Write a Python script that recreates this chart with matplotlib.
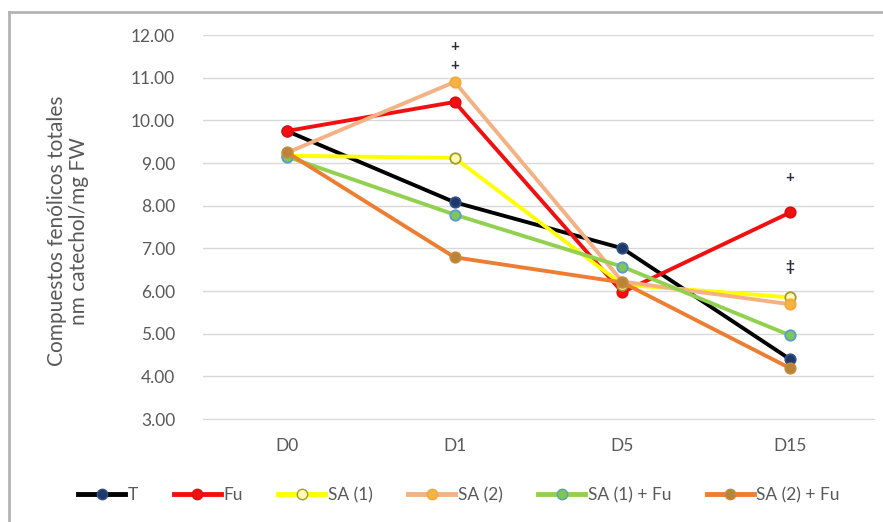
import matplotlib.pyplot as plt
from matplotlib.lines import Line2D

plt.rcParams['font.family'] = ['Lato', 'DejaVu Sans']

days = ["D0", "D1", "D5", "D15"]

t_vals = [9.75, 8.08, 7.00, 4.40]
fu_vals = [9.75, 10.43, 5.97, 7.84]
sa1_vals = [9.17, 9.12, 6.15, 5.85]
sa2_vals = [9.24, 10.90, 6.22, 5.69]
sa1fu_vals = [9.15, 7.79, 6.57, 4.96]
sa2fu_vals = [9.25, 6.79, 6.20, 4.19]

labels = ["T", "Fu", "SA (1)", "SA (2)", "SA (1) + Fu", "SA (2) + Fu"]

# significance marks: (day index, y, symbol)
marks = [(1, 11.72, "+"), (1, 11.27, "+"), (3, 8.65, "+"), (3, 6.57, "‡")]

series = [t_vals, fu_vals, sa1_vals, sa2_vals, sa1fu_vals, sa2fu_vals]
line_colors = ["#000000", "#f20f0f", "#ffff00", "#f4b183", "#92d050", "#ed7d31"]
face_colors = ["#1f3864", "#f20f0f", "#fffbb0", "#f6b343", "#7cc65a", "#b8843c"]
edge_colors = ["#2f4f8f", "#e01010", "#a89a2a", "#f2a93b", "#5b9bd5", "#c88a3a"]

fig = plt.figure(figsize=(8.83, 5.22), dpi=100)
ax = fig.add_axes([203 / 883, 1 - 419 / 522, 671 / 883, 384 / 522])

x = list(range(len(days)))
for vals, lc, fc, ec, lab in zip(series, line_colors, face_colors, edge_colors, labels):
    ax.plot(x, vals, color=lc, lw=2.8, marker="o", ms=7.5,
            markerfacecolor=fc, markeredgecolor=ec, markeredgewidth=1.3,
            label=lab, zorder=3)

for i, y, s in marks:
    ax.text(i, y, s, ha="center", va="center", fontsize=11, fontweight="bold",
            color="#2b2b3b")

ax.set_xlim(-0.5, 3.5)
ax.set_ylim(3, 12)
ax.set_xticks(x)
ax.set_xticklabels(days)
ax.set_yticks(range(3, 13))
ax.set_yticklabels([f"{v:.2f}" for v in range(3, 13)])
ax.tick_params(length=0, labelsize=12.5, colors="#595959")
ax.tick_params(axis="x", pad=14)
ax.tick_params(axis="y", pad=20)
ax.grid(axis="y", color="#d9d9d9", lw=1)
ax.set_axisbelow(True)
for side in ["top", "right", "left"]:
    ax.spines[side].set_visible(False)
ax.spines["bottom"].set_color("#d9d9d9")

ax.set_ylabel("Compuestos fenólicos totales\nnm catechol/mg FW", fontsize=15,
              color="#595959", linespacing=1.15)
ax.yaxis.set_label_coords(-0.17, 0.49)

handles = [Line2D([], [], color=lc, lw=3.5, marker="o", ms=7.5,
                  markerfacecolor=fc, markeredgecolor=ec)
           for lc, fc, ec in zip(line_colors, face_colors, edge_colors)]
fig.legend(handles, labels, loc="center", bbox_to_anchor=(0.52, 1 - 495 / 522),
           ncol=6, frameon=False, fontsize=12.5, handlelength=2.7,
           handletextpad=0.15, columnspacing=2.05, labelcolor="#595959")

# chart area border
fig.add_artist(Line2D([9 / 883, 9 / 883], [0, 1 - 12 / 522],
                      transform=fig.transFigure, color="#b4b4b4", lw=2))
fig.add_artist(Line2D([9 / 883, 1], [1 - 12 / 522, 1 - 12 / 522],
                      transform=fig.transFigure, color="#b4b4b4", lw=2))

fig.savefig("out.png", dpi=100)
